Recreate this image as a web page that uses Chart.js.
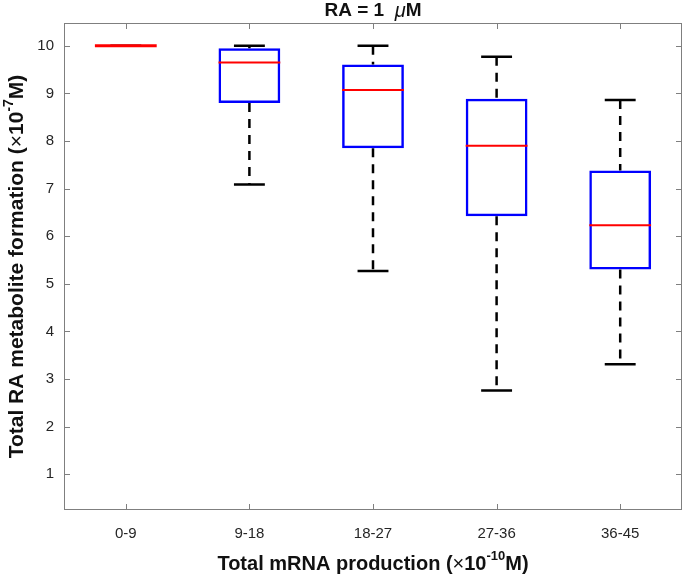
<!DOCTYPE html>
<html>
<head>
<meta charset="utf-8">
<script src="https://cdn.jsdelivr.net/npm/chart.js@4/dist/chart.umd.min.js"></script>
<style>
    body { margin: 0; background: #fff; }
    #wrap { width: 685px; height: 579px; }
</style>
</head>
<body>
<div id="wrap"><canvas id="chart" width="685" height="579"></canvas></div>
<script>
// data
const groups = ['0-9', '9-18', '18-27', '27-36', '36-45'];
const lowerWhisker = [10, 7.09, 5.27, 2.76, 3.31];
const lowerQuartile = [null, 8.80, 7.85, 6.42, 5.30];
const medians = [10, 9.65, 9.07, 7.90, 6.23];
const upperQuartile = [null, 9.95, 9.61, 8.89, 7.38];
const upperWhisker = [10, 10.0, 10.0, 9.77, 8.86];
const yTicks = [1, 2, 3, 4, 5, 6, 7, 8, 9, 10];

const fontFamily = "'Liberation Sans', Arial, Helvetica, sans-serif";
const frameColor = '#7f7f7f';

// draw a run of text pieces (for super scripts / italic bits)
function drawParts(ctx, parts, x, y, align) {
    let total = 0;
    parts.forEach(p => {
        ctx.font = p.font;
        total += ctx.measureText(p.text).width;
    });
    let cx = align === 'center' ? x - total / 2 : x;
    parts.forEach(p => {
        ctx.font = p.font;
        ctx.fillText(p.text, cx, y - (p.raise || 0));
        cx += ctx.measureText(p.text).width;
    });
}

const framePlugin = {
    id: 'frame',
    afterDraw(chart) {
        const { ctx, chartArea: a, scales } = chart;
        ctx.save();
        ctx.strokeStyle = frameColor;
        ctx.lineWidth = 1;
        ctx.strokeRect(a.left + 0.5, a.top + 0.5, a.right - a.left - 1, a.bottom - a.top - 1);
        ctx.beginPath();
        yTicks.forEach(v => {
            const py = Math.round(scales.y.getPixelForValue(v)) + 0.5;
            ctx.moveTo(a.left, py); ctx.lineTo(a.left + 6, py);
            ctx.moveTo(a.right, py); ctx.lineTo(a.right - 6, py);
        });
        groups.forEach((g, i) => {
            const px = Math.round(scales.x.getPixelForValue(i)) + 0.5;
            ctx.moveTo(px, a.top); ctx.lineTo(px, a.top + 6);
            ctx.moveTo(px, a.bottom); ctx.lineTo(px, a.bottom - 6);
        });
        ctx.stroke();

        // title and axis labels
        ctx.fillStyle = '#111';
        ctx.textBaseline = 'middle';
        const cx = (a.left + a.right) / 2;
        drawParts(ctx, [
            { text: 'RA = 1  ', font: 'bold 19px ' + fontFamily },
            { text: 'μ', font: 'italic 20px ' + fontFamily },
            { text: 'M', font: 'bold 19px ' + fontFamily }
        ], cx, 11, 'center');

        drawParts(ctx, [
            { text: 'Total mRNA production (', font: 'bold 20px ' + fontFamily },
            { text: '×', font: '20px ' + fontFamily },
            { text: '10', font: 'bold 20px ' + fontFamily },
            { text: '-10', font: 'bold 13px ' + fontFamily, raise: 8 },
            { text: 'M)', font: 'bold 20px ' + fontFamily }
        ], cx, 564, 'center');

        ctx.translate(17, (a.top + a.bottom) / 2);
        ctx.rotate(-Math.PI / 2);
        drawParts(ctx, [
            { text: 'Total RA metabolite formation (', font: 'bold 21px ' + fontFamily },
            { text: '×', font: '21px ' + fontFamily },
            { text: '10', font: 'bold 21px ' + fontFamily },
            { text: '-7', font: 'bold 14px ' + fontFamily, raise: 8 },
            { text: 'M)', font: 'bold 21px ' + fontFamily }
        ], 0, 0, 'center');
        ctx.restore();
    }
};

// whiskers, caps and medians
const boxPlugin = {
    id: 'boxParts',
    afterDatasetsDraw(chart) {
        const { ctx, scales } = chart;
        const x = scales.x, y = scales.y;
        const step = x.getPixelForValue(1) - x.getPixelForValue(0);
        ctx.save();
        groups.forEach((g, i) => {
            const cx = x.getPixelForValue(i);
            const capHalf = step * 0.125;
            const boxHalf = step * 0.25;
            const top = upperQuartile[i] == null ? medians[i] : upperQuartile[i];
            const bottom = lowerQuartile[i] == null ? medians[i] : lowerQuartile[i];

            ctx.strokeStyle = '#000';
            ctx.lineWidth = 2.5;
            ctx.setLineDash([9, 7]);
            ctx.beginPath();
            ctx.moveTo(cx, y.getPixelForValue(upperWhisker[i]));
            ctx.lineTo(cx, y.getPixelForValue(top));
            ctx.moveTo(cx, y.getPixelForValue(bottom));
            ctx.lineTo(cx, y.getPixelForValue(lowerWhisker[i]));
            ctx.stroke();

            ctx.setLineDash([]);
            ctx.beginPath();
            ctx.moveTo(cx - capHalf, y.getPixelForValue(upperWhisker[i]));
            ctx.lineTo(cx + capHalf, y.getPixelForValue(upperWhisker[i]));
            ctx.moveTo(cx - capHalf, y.getPixelForValue(lowerWhisker[i]));
            ctx.lineTo(cx + capHalf, y.getPixelForValue(lowerWhisker[i]));
            ctx.stroke();

            ctx.strokeStyle = '#ff0000';
            ctx.lineWidth = i === 0 ? 3 : 2;
            ctx.beginPath();
            ctx.moveTo(cx - boxHalf, y.getPixelForValue(medians[i]));
            ctx.lineTo(cx + boxHalf, y.getPixelForValue(medians[i]));
            ctx.stroke();
        });
        ctx.restore();
    }
};

const chart = document.querySelector('#chart').getContext('2d');

new Chart(chart, {
    type: 'bar',
    data: {
        labels: groups,
        datasets: [
            {
                label: 'box',
                data: groups.map((g, i) => lowerQuartile[i] == null ? null : [lowerQuartile[i], upperQuartile[i]]),
                backgroundColor: 'rgba(255,255,255,0)',
                borderColor: '#0000ff',
                borderWidth: 2.5,
                borderSkipped: false,
                barPercentage: 0.5,
                categoryPercentage: 1
            }
        ]
    },
    options: {
        responsive: false,
        animation: false,
        layout: { padding: { top: 23, right: 3, left: 0, bottom: 0 } },
        plugins: {
            legend: { display: false },
            tooltip: { enabled: false }
        },
        scales: {
            x: {
                grid: { display: false, drawTicks: false },
                border: { display: false },
                ticks: { color: '#262626', padding: 15, font: { family: fontFamily, size: 15 } },
                afterFit: (s) => { s.height = 69; }
            },
            y: {
                min: 0.25,
                max: 10.48,
                grid: { display: false, drawTicks: false },
                border: { display: false },
                ticks: { color: '#262626', padding: 10, font: { family: fontFamily, size: 15 } },
                afterBuildTicks: (s) => { s.ticks = yTicks.map(v => ({ value: v })); },
                afterFit: (s) => { s.width = 64; }
            }
        }
    },
    plugins: [framePlugin, boxPlugin]
})
</script>
</body>
</html>
